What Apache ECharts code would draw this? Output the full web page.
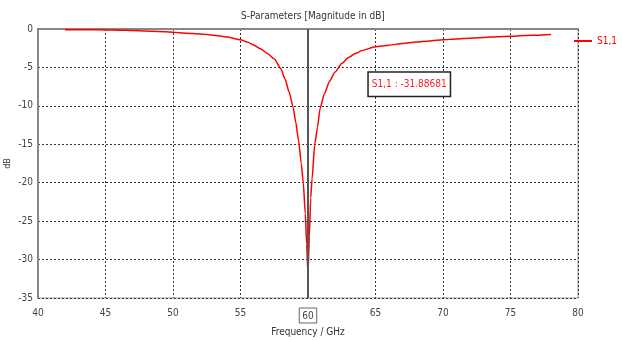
<!DOCTYPE html>
<html><head><meta charset="utf-8">
<script src="https://cdn.jsdelivr.net/npm/echarts@6/dist/echarts.min.js"></script>
<style>html,body{margin:0;padding:0;background:#fff}#c{width:622px;height:340px}</style>
</head><body><div id="c"></div>
<script>
const freq = [42,43,44,45,46,47,48,49,50,51,52,53,54,55,55.5,56,56.5,57,57.5,58,58.3,58.6,58.9,59.1,59.3,59.5,59.65,59.8,59.9,60,60.1,60.2,60.3,60.5,60.7,60.9,61.2,61.6,62,62.5,63,63.5,64,65,66,67,68,69,70,71,72,73,74,75,76,77,78];
const s11 = [-0.1,-0.1,-0.1,-0.12,-0.15,-0.2,-0.25,-0.32,-0.42,-0.55,-0.65,-0.8,-1.05,-1.4,-1.7,-2.1,-2.6,-3.2,-3.9,-5.2,-6.5,-8.2,-10.2,-12.2,-14.5,-17.5,-20,-24,-28,-31.88681,-27,-22,-19.5,-15,-12.8,-10.3,-8.5,-6.8,-5.6,-4.5,-3.7,-3.2,-2.8,-2.3,-2.1,-1.9,-1.7,-1.55,-1.4,-1.3,-1.2,-1.1,-1.0,-0.95,-0.85,-0.8,-0.7];
const markerFreq = 60;
const markerText = 'S1,1 : -31.88681';
const markerLabelPos = [67.5, -7.2];
const xTicks = [40,45,50,55,60,65,70,75,80];
const yTicks = [0,-5,-10,-15,-20,-25,-30,-35];

const FONT = '"DejaVu Sans Condensed","Liberation Sans Narrow",sans-serif';
const chart = echarts.init(document.getElementById('c'));
chart.setOption({
  animation: false,
  textStyle: {fontFamily: FONT},
  title: {text: 'S-Parameters [Magnitude in dB]', left: 308, textAlign: 'center', top: 6,
    textStyle: {fontSize: 10, fontWeight: 'normal', color: '#333', fontFamily: FONT}},
  legend: {right: 0, top: 31, itemWidth: 18, itemHeight: 2, itemGap: 4,
    icon: 'rect',
    textStyle: {color: '#ff0000', fontSize: 10, fontFamily: FONT},
    data: ['S1,1']},
  grid: {left: 38, right: 44, top: 29, bottom: 42, show: true, borderColor: '#999', borderWidth: 1,
    outerBoundsMode: 'none', containLabel: false},
  xAxis: {type: 'value', min: 40, max: 80, interval: 5,
    name: 'Frequency / GHz', nameLocation: 'middle', nameGap: 29, nameMoveOverlap: false,
    nameTextStyle: {fontSize: 10, color: '#333', fontFamily: FONT},
    axisLine: {lineStyle: {color: '#888', width: 2}},
    axisTick: {show: false},
    axisLabel: {fontSize: 10, color: '#444', margin: 10, fontFamily: FONT,
      formatter: v => v === markerFreq ? '{box|' + v + '}' : String(v),
      rich: {box: {borderColor: '#666', borderWidth: 1, padding: [3, 3, 2, 3], fontSize: 10, color: '#444', fontFamily: FONT}}},
    splitLine: {show: true, lineStyle: {color: '#333', type: [2, 2], width: 1}}},
  yAxis: {type: 'value', min: -35, max: 0, interval: 5,
    name: 'dB', nameLocation: 'middle', nameGap: 26, nameMoveOverlap: false,
    nameTextStyle: {fontSize: 9, color: '#333', fontFamily: FONT},
    axisLine: {show: true, onZero: false, lineStyle: {color: '#888', width: 2}},
    axisTick: {show: false},
    axisLabel: {fontSize: 10, color: '#444', margin: 5, fontFamily: FONT},
    splitLine: {show: true, lineStyle: {color: '#333', type: [2, 2], width: 1}}},
  series: [{
    name: 'S1,1', type: 'line', showSymbol: false, symbol: 'none',
    data: freq.map((f, i) => [f, s11[i]]),
    lineStyle: {color: '#ff0000', width: 1.5}, itemStyle: {color: '#ff0000'},
    smooth: 0.2, smoothMonotone: 'x',
    markLine: {silent: true, symbol: 'none', animation: false,
      lineStyle: {color: '#555', width: 2, type: 'solid'},
      label: {show: false},
      data: [{xAxis: markerFreq}]},
    markPoint: {silent: true, symbol: 'rect', symbolSize: 0,
      data: [{coord: markerLabelPos, value: markerText}],
      label: {show: true, position: 'inside', formatter: markerText, color: '#ff2020', fontSize: 10,
        fontFamily: FONT, backgroundColor: '#fff', borderColor: '#222', borderWidth: 1.5, padding: [7, 3, 6, 3]}}
  }]
});
</script></body></html>
